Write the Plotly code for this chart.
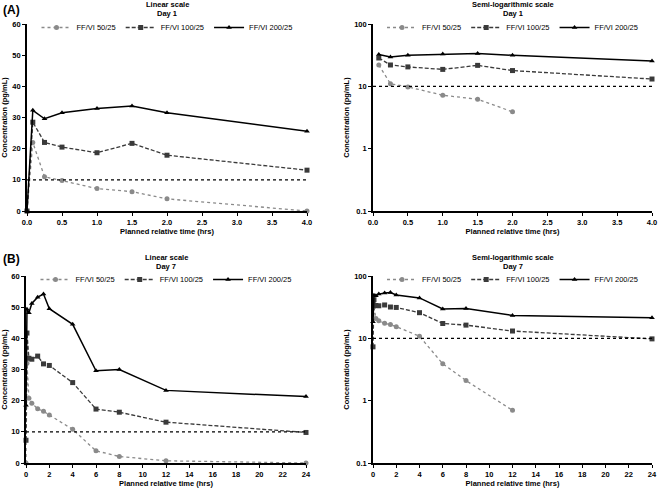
import plotly.graph_objects as go

# ---------------- data ----------------
series_names = ["FF/VI 50/25", "FF/VI 100/25", "FF/VI 200/25"]

day1_time = [0, 0.083, 0.25, 0.5, 1.0, 1.5, 2.0, 4.0]
day1_50 = [0, 22.0, 11.0, 9.8, 7.2, 6.2, 3.9, 0]
day1_100 = [0, 28.5, 22.0, 20.5, 18.7, 21.7, 17.9, 13.1]
day1_200 = [0, 32.3, 29.6, 31.5, 32.9, 33.7, 31.5, 25.6]

day7_time = [0, 0.083, 0.25, 0.5, 1, 1.5, 2, 4, 6, 8, 12, 24]
day7_50 = [0, 32.0, 20.8, 19.2, 17.4, 16.6, 15.4, 10.8, 3.9, 2.1, 0.7, 0]
day7_100 = [7.3, 41.7, 33.6, 33.3, 34.3, 31.8, 31.3, 25.8, 17.3, 16.3, 13.1, 9.8]
day7_200 = [18.5, 49.3, 48.2, 51.2, 53.2, 54.2, 49.5, 44.5, 29.6, 30.0, 23.3, 21.3]

llq = 10

day1_xticks = [0, 0.5, 1.0, 1.5, 2.0, 2.5, 3.0, 3.5, 4.0]
day1_xticklabels = ["0.0", "0.5", "1.0", "1.5", "2.0", "2.5", "3.0", "3.5", "4.0"]
day7_xticks = [0, 2, 4, 6, 8, 10, 12, 14, 16, 18, 20, 22, 24]
lin_yticks = [0, 10, 20, 30, 40, 50, 60]
log_yticks = [0.1, 1, 10, 100]
log_yticklabels = ["0.1", "1", "10", "100"]

# ---------------- styling ----------------
FONT = "Liberation Sans, Arial, sans-serif"
styles = [
    dict(color="#8a8a8a", dash="dot", symbol="circle", width=1.3, msize=5),
    dict(color="#3a3a3a", dash="4px,2px", symbol="square", width=1.3, msize=5),
    dict(color="#000000", dash="solid", symbol="triangle-up", width=1.5, msize=5),
]

W, H = 658, 489

def px_x(p):
    return p / W

def px_y(p):
    return 1 - p / H

panels = [
    ("x", "y", "legend", (27, 307), (24, 211), False, day1_time,
     [day1_50, day1_100, day1_200], ("Linear scale", "Day 1")),
    ("x2", "y2", "legend2", (373, 652), (24, 211), True, day1_time,
     [day1_50, day1_100, day1_200], ("Semi-logarithmic scale", "Day 1")),
    ("x3", "y3", "legend3", (26, 306), (276, 463), False, day7_time,
     [day7_50, day7_100, day7_200], ("Linear scale", "Day 7")),
    ("x4", "y4", "legend4", (373, 652), (276, 463), True, day7_time,
     [day7_50, day7_100, day7_200], ("Semi-logarithmic scale", "Day 7")),
]

fig = go.Figure()
layout = dict(
    width=W, height=H,
    margin=dict(l=0, r=0, t=0, b=0, autoexpand=False),
    paper_bgcolor="white", plot_bgcolor="white",
    font=dict(family=FONT, size=7, color="black"),
    annotations=[], shapes=[],
)

for i, (xa, ya, lg, (x0, x1), (yt, yb), is_log, t, data, title) in enumerate(panels):
    for name, vals, st in zip(series_names, data, styles):
        if is_log:
            xs = [tt for tt, v in zip(t, vals) if v > 0]
            ys = [v for v in vals if v > 0]
        else:
            xs, ys = t, vals
        fig.add_trace(go.Scatter(
            x=xs, y=ys, name=name, mode="lines+markers",
            xaxis=xa, yaxis=ya, legend=lg, cliponaxis=False,
            line=dict(color=st["color"], dash=st["dash"], width=st["width"]),
            marker=dict(symbol=st["symbol"], size=st["msize"], color=st["color"]),
        ))
    tmax = max(t)
    fig.add_trace(go.Scatter(
        x=[0, tmax], y=[llq, llq], mode="lines", showlegend=False,
        xaxis=xa, yaxis=ya, hoverinfo="skip",
        line=dict(color="black", dash="dot", width=1.3),
    ))

    xkey = "xaxis" + xa[1:]
    ykey = "yaxis" + ya[1:]
    if tmax == 4.0:
        xt = dict(tickvals=day1_xticks, ticktext=day1_xticklabels, range=[0, 4])
    else:
        xt = dict(tickvals=day7_xticks, range=[0, 24])
    layout[xkey] = dict(
        domain=[px_x(x0), px_x(x1)], anchor=ya,
        showline=True, linecolor="black", linewidth=1.6,
        ticks="outside", ticklen=3, tickwidth=1.2, tickcolor="black",
        showgrid=False, zeroline=False, ticklabeloverflow="allow",
        automargin=False,
        tickfont=dict(family=FONT, size=7.5, color="black", weight="bold"),
        title=dict(text="<b>Planned relative time (hrs)</b>", standoff=2,
                   font=dict(family=FONT, size=7.5, color="black")),
        **xt,
    )
    if is_log:
        yt_ = dict(type="log", range=[-1, 2], tickvals=log_yticks, ticktext=log_yticklabels)
    else:
        yt_ = dict(range=[0, 60], tickvals=lin_yticks)
    layout[ykey] = dict(
        domain=[px_y(yb), px_y(yt)], anchor=xa,
        showline=True, linecolor="black", linewidth=1.6,
        ticks="outside", ticklen=3, tickwidth=1.2, tickcolor="black",
        showgrid=False, zeroline=False, automargin=False,
        tickfont=dict(family=FONT, size=7.5, color="black", weight="bold"),
        title=dict(text="<b>Concentration (pg/mL)</b>", standoff=4,
                   font=dict(family=FONT, size=7.5, color="black")),
        **yt_,
    )
    layout[lg] = dict(
        orientation="h", x=px_x((x0 + x1) / 2), xanchor="center",
        y=px_y(yt - 11), yanchor="top",
        bgcolor="rgba(0,0,0,0)", font=dict(family=FONT, size=7.5, color="black"),
        itemwidth=30, tracegroupgap=0,
    )
    for k, line_text in enumerate(title):
        layout["annotations"].append(dict(
            text="<b>" + line_text + "</b>",
            x=px_x((x0 + x1) / 2), y=px_y(yt - 19 + 9 * k), xref="paper", yref="paper",
            xanchor="center", yanchor="middle", showarrow=False,
            font=dict(family=FONT, size=7.5, color="black"),
        ))

layout["annotations"].append(dict(text="<b>(A)</b>", x=px_x(1), y=px_y(1), xref="paper", yref="paper",
                                  xanchor="left", yanchor="top", showarrow=False,
                                  font=dict(family=FONT, size=12, color="black")))
layout["annotations"].append(dict(text="<b>(B)</b>", x=px_x(1), y=px_y(250), xref="paper", yref="paper",
                                  xanchor="left", yanchor="top", showarrow=False,
                                  font=dict(family=FONT, size=12, color="black")))

fig.update_layout(**layout)
fig.write_html("out.html", config={"displayModeBar": False},
               post_script="document.body.style.margin='0';")
